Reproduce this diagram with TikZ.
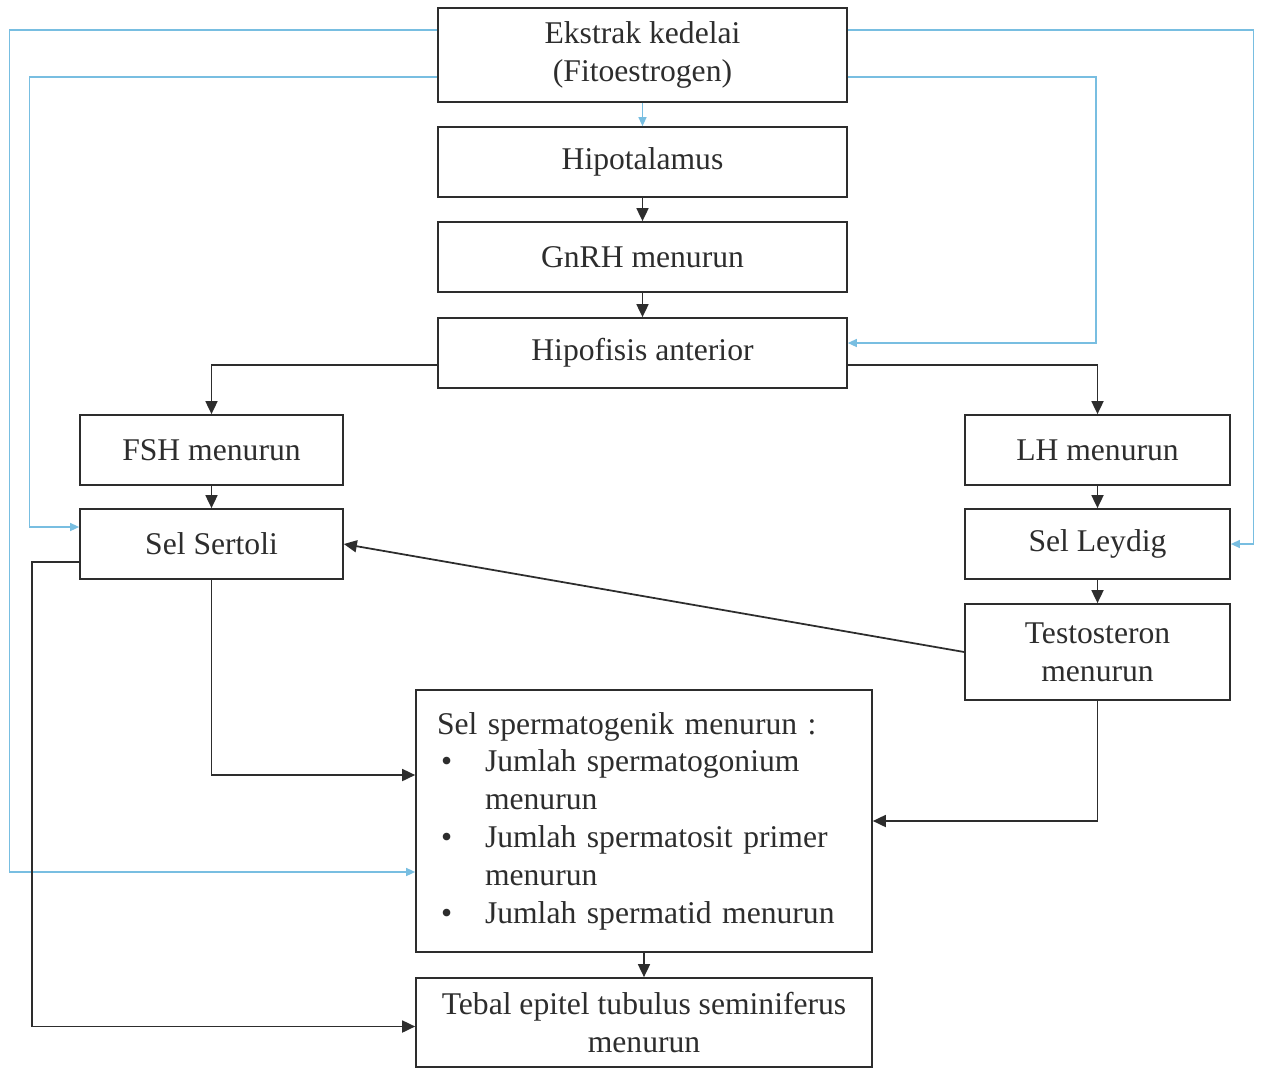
\documentclass[tikz,border=0pt]{standalone}
\usepackage{fontspec}
\setmainfont{Liberation Serif}
\usetikzlibrary{arrows.meta}
\definecolor{lineblue}{RGB}{120,190,225}
\definecolor{inkgray}{RGB}{45,45,45}
\tikzset{
  box/.style={draw=inkgray, line width=1pt, text=inkgray, align=center, inner sep=0pt,
    font=\fontsize{18}{21.5}\selectfont},
  arr/.style={draw=inkgray, line width=1pt, -{Triangle[length=0.26cm,width=0.24cm]}},
  bluearr/.style={draw=lineblue, line width=0.8pt, -{Triangle[length=0.18cm,width=0.16cm]}}
}
\begin{document}
\begin{tikzpicture}[x=0.02cm, y=-0.02cm]
\useasboundingbox (0,0) rectangle (1262,1069);
% drawing nodes
\node[box, minimum width=8.18cm, minimum height=1.88cm] (ekstrak) at (642.5,55) {Ekstrak kedelai\\(Fitoestrogen)};
\node[box, minimum width=8.18cm, minimum height=1.4cm] (hipot) at (642.5,162) {Hipotalamus};
\node[box, minimum width=8.18cm, minimum height=1.4cm] (gnrh) at (642.5,257) {GnRH menurun};
\node[box, minimum width=8.18cm, minimum height=1.4cm] (hipof) at (642.5,353) {Hipofisis anterior};
\node[box, minimum width=5.26cm, minimum height=1.4cm] (fsh) at (211.5,450) {FSH menurun};
\node[box, minimum width=5.26cm, minimum height=1.4cm] (sertoli) at (211.5,544) {Sel Sertoli};
\node[box, minimum width=5.3cm, minimum height=1.4cm] (lh) at (1097.5,450) {LH menurun};
\node[box, minimum width=5.3cm, minimum height=1.4cm] (leydig) at (1097.5,544) {Sel Leydig};
\node[box, minimum width=5.3cm, minimum height=1.92cm] (testo) at (1097.5,652) {Testosteron\\menurun};
\node[box, minimum width=9.12cm, minimum height=5.24cm, text width=8.28cm, align=left, inner xsep=0.42cm] (sperm) at (644,821) {Sel spermatogenik menurun :\\
\hspace*{0.08cm}\makebox[0.88cm][l]{\textbullet}Jumlah spermatogonium\\
\hspace*{0.96cm}menurun\\
\hspace*{0.08cm}\makebox[0.88cm][l]{\textbullet}Jumlah spermatosit primer\\
\hspace*{0.96cm}menurun\\
\hspace*{0.08cm}\makebox[0.88cm][l]{\textbullet}Jumlah spermatid menurun};
\node[box, minimum width=9.12cm, minimum height=1.78cm] (tebal) at (644,1022.5) {Tebal epitel tubulus seminiferus\\menurun};
% drawing edges
\draw[bluearr] (ekstrak.south) -- (hipot.north);
\draw[bluearr] ([yshift=0.5cm]ekstrak.west) -- ++(-8.56cm,0) |- ([yshift=-1.02cm]sperm.west);
\draw[bluearr] ([yshift=-0.44cm]ekstrak.west) -- ++(-8.16cm,0) |- ([yshift=0.34cm]sertoli.west);
\draw[bluearr] ([yshift=0.5cm]ekstrak.east) -- ++(8.12cm,0) |- (leydig.east);
\draw[bluearr] ([yshift=-0.44cm]ekstrak.east) -- ++(4.96cm,0) |- ([yshift=0.2cm]hipof.east);
\draw[arr] (hipot) -- (gnrh);
\draw[arr] (gnrh) -- (hipof);
\draw[arr] ([yshift=-0.24cm]hipof.west) -| (fsh.north);
\draw[arr] ([yshift=-0.24cm]hipof.east) -| (lh.north);
\draw[arr] (fsh) -- (sertoli);
\draw[arr] (lh) -- (leydig);
\draw[arr] (leydig) -- (testo);
\draw[arr] (testo.west) -- (sertoli.east);
\draw[arr] (sertoli.south) |- ([yshift=0.92cm]sperm.west);
\draw[arr] ([yshift=-0.36cm]sertoli.west) -- ++(-0.94cm,0) |- ([yshift=-0.08cm]tebal.west);
\draw[arr] (testo.south) |- (sperm.east);
\draw[arr] (sperm) -- (tebal);
\end{tikzpicture}
\end{document}
